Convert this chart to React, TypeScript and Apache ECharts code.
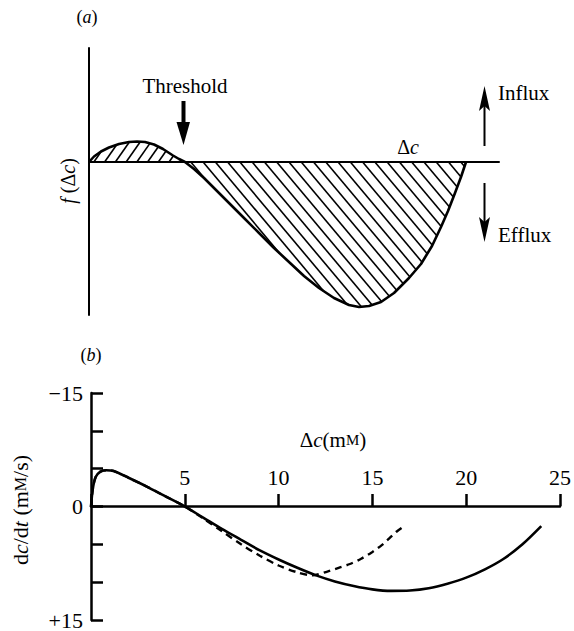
import React, { useEffect, useRef } from "react";
import * as echarts from "echarts";

// ---------- Panel (a): schematic flux function f(Δc), arbitrary units ----------
const fluxX = [0, 0.5, 1.2, 2, 3, 4, 4.8, 5.6, 6.5, 7.4, 8.4, 9.0, 9.6, 10.5, 11.5, 12.5, 14, 15.5, 17, 18.5, 20, 21.5, 23, 24.5, 26, 27, 28, 29.2, 30.5, 32, 33.2, 34.3, 35.2, 35.9, 36.6, 37.2, 37.7];
const fluxY = [0, 5.5, 10.5, 14.5, 18, 20, 20.5, 20, 17.5, 13, 6.5, 3, 0, -7, -16, -26, -41, -56, -71, -86, -100, -114, -126, -136, -143, -145, -144, -140, -131, -116, -102, -84, -65, -49, -31, -15, 0];
const thresholdX = 9.6;

// ---------- Panel (b): dc/dt vs Δc (mM, mM/s); y axis inverted ----------
const deltaC = [0, 0.1, 0.25, 0.5, 0.8, 1.2, 2, 3, 4, 5, 6, 7, 8, 9, 10, 11, 12, 13, 14, 15, 16, 17, 18, 19, 20, 21, 22, 23, 24];
const rateSolid = [0, -2.4, -3.9, -4.6, -4.8, -4.7, -3.8, -2.6, -1.3, 0, 1.5, 3.0, 4.4, 5.8, 7.0, 8.1, 9.1, 9.9, 10.5, 10.95, 11.15, 11.1, 10.8, 10.2, 9.4, 8.3, 6.9, 5.0, 2.6];
const deltaCDashed = [0, 0.1, 0.25, 0.5, 0.8, 1.2, 2, 3, 4, 5, 6, 7, 8, 9, 10, 11, 11.8, 12.6, 13.2, 13.8, 14.4, 15, 15.5, 15.9, 16.3, 16.7];
const rateDashed = [0, -2.4, -3.9, -4.6, -4.8, -4.7, -3.8, -2.6, -1.3, 0, 1.6, 3.3, 5.0, 6.5, 7.8, 8.7, 9.1, 8.6, 8.1, 7.6, 6.9, 6.0, 5.1, 4.2, 3.3, 2.6];
const xTickValues = [0, 5, 10, 15, 20, 25];
const yTickLabels: Record<string, string> = { "-15": "\u221215", "0": "0", "15": "+15" };

const SERIF = "'Liberation Serif', 'DejaVu Serif', serif";

function hatch(poly: number[][], angleDeg: number, spacing: number, forward: boolean, phase: number) {
  const t = (angleDeg * Math.PI) / 180;
  const d = forward ? [Math.cos(t), -Math.sin(t)] : [Math.cos(t), Math.sin(t)];
  const n = [-d[1], d[0]];
  const proj = poly.map((p) => p[0] * n[0] + p[1] * n[1]);
  const cmin = Math.min(...proj);
  const cmax = Math.max(...proj);
  const out: any[] = [];
  for (let c = cmin + phase; c < cmax; c += spacing) {
    const hits: number[][] = [];
    for (let i = 0; i < poly.length; i++) {
      const j = (i + 1) % poly.length;
      const a = poly[i];
      const b = poly[j];
      const ta = proj[i] - c;
      const tb = proj[j] - c;
      if (ta < 0 !== tb < 0) {
        const s = ta / (ta - tb);
        const x = a[0] + (b[0] - a[0]) * s;
        const y = a[1] + (b[1] - a[1]) * s;
        hits.push([x, y, x * d[0] + y * d[1]]);
      }
    }
    hits.sort((p, q) => p[2] - q[2]);
    for (let k = 0; k + 1 < hits.length; k += 2) {
      out.push({
        type: "line",
        shape: { x1: hits[k][0], y1: hits[k][1], x2: hits[k + 1][0], y2: hits[k + 1][1] },
        style: { stroke: "#000", lineWidth: 1.6 },
      });
    }
  }
  return out;
}

export default function App() {
  const ref = useRef<HTMLDivElement>(null);
  useEffect(() => {
    if (!ref.current) return;
    const chart = echarts.init(ref.current, null, { renderer: "svg" });
    const italic = { fontStyle: "italic", fontFamily: SERIF, fill: "#000" };
    const option: any = {
      animation: false,
      backgroundColor: "#fff",
      grid: [
        { left: 89, top: 48, width: 410, height: 267 },
        { left: 91, top: 393, width: 472, height: 228 },
      ],
      xAxis: [
        {
          gridIndex: 0, type: "value", min: 0, max: 41,
          axisLine: { show: true, onZero: true, lineStyle: { color: "#000", width: 2 } },
          axisTick: { show: false }, axisLabel: { show: false }, splitLine: { show: false },
        },
        {
          gridIndex: 1, type: "value", min: 0, max: 25, interval: 5,
          position: "bottom", offset: -114,
          axisLine: { show: true, onZero: false, lineStyle: { color: "#000", width: 2.5 } },
          axisTick: { show: true, inside: true, length: 12, lineStyle: { color: "#000", width: 2.5 } },
          axisLabel: {
            show: true, inside: true, margin: 18, color: "#000", fontSize: 22, fontFamily: SERIF,
            formatter: (v: number) => (v === 0 || xTickValues.indexOf(v) < 0 ? "" : String(v)),
          },
          splitLine: { show: false },
        },
      ],
      yAxis: [
        {
          gridIndex: 0, type: "value", min: -153, max: 114,
          axisLine: { show: true, onZero: false, lineStyle: { color: "#000", width: 2 } },
          axisTick: { show: false }, axisLabel: { show: false }, splitLine: { show: false },
        },
        {
          gridIndex: 1, type: "value", min: -15, max: 15, interval: 5, inverse: true,
          axisLine: { show: true, onZero: false, lineStyle: { color: "#000", width: 2.5 } },
          axisTick: { show: true, inside: true, length: 12, lineStyle: { color: "#000", width: 2.5 } },
          axisLabel: {
            show: true, margin: 8, color: "#000", fontSize: 22, fontFamily: SERIF,
            formatter: (v: number) => yTickLabels[String(v)] ?? "",
          },
          splitLine: { show: false },
        },
      ],
      series: [
        {
          type: "custom",
          xAxisIndex: 0,
          yAxisIndex: 0,
          coordinateSystem: "cartesian2d",
          clip: false,
          data: [[0, 0]],
          renderItem: (_p: any, api: any) => {
            const pts = fluxX.map((x, i) => api.coord([x, fluxY[i]]));
            const idx = fluxX.indexOf(thresholdX);
            const hump = pts.slice(0, idx + 1);
            const trough = pts.slice(idx);
            const children: any[] = [
              ...hatch(hump, 55, 8.8, true, 4),
              ...hatch(trough, 50, 9.4, false, 4),
            ];
            children.push({
              type: "polyline",
              shape: { points: pts },
              style: { stroke: "#000", lineWidth: 2.6, fill: null, lineJoin: "round" },
            });
            return { type: "group", children };
          },
        },
        {
          type: "line", xAxisIndex: 1, yAxisIndex: 1,
          data: deltaCDashed.map((x, i) => [x, rateDashed[i]]),
          smooth: 0.3, showSymbol: false, symbol: "none",
          lineStyle: { color: "#000", width: 2.4, type: [7, 5] },
        },
        {
          type: "line", xAxisIndex: 1, yAxisIndex: 1,
          data: deltaC.map((x, i) => [x, rateSolid[i]]),
          smooth: 0.3, showSymbol: false, symbol: "none",
          lineStyle: { color: "#000", width: 2.6 },
        },
      ],
      graphic: [
        { type: "text", x: 87, y: 17, style: { text: "({i|a})", fontSize: 18, fontFamily: SERIF, fill: "#000", align: "center", verticalAlign: "middle", rich: { i: { ...italic, fontSize: 18 } } } },
        { type: "text", x: 91, y: 355, style: { text: "({i|b})", fontSize: 18, fontFamily: SERIF, fill: "#000", align: "center", verticalAlign: "middle", rich: { i: { ...italic, fontSize: 18 } } } },
        { type: "text", x: 185, y: 86, style: { text: "Threshold", fontSize: 21, fontFamily: SERIF, fill: "#000", align: "center", verticalAlign: "middle" } },
        { type: "rect", shape: { x: 181.5, y: 101, width: 4, height: 23 }, style: { fill: "#000" } },
        { type: "polygon", shape: { points: [[176.5, 122], [190, 122], [183.5, 145]] }, style: { fill: "#000" } },
        { type: "text", x: 408, y: 147, style: { text: "\u0394{i|c}", fontSize: 20, fontFamily: SERIF, fill: "#000", align: "center", verticalAlign: "middle", rich: { i: { ...italic, fontSize: 20 } } } },
        { type: "text", x: 68, y: 181, rotation: Math.PI / 2, style: { text: "{i|f} (\u0394{i|c})", fontSize: 20, fontFamily: SERIF, fill: "#000", align: "center", verticalAlign: "middle", rich: { i: { ...italic, fontSize: 20 } } } },
        { type: "line", shape: { x1: 484.5, y1: 146, x2: 484.5, y2: 104 }, style: { stroke: "#000", lineWidth: 2 } },
        { type: "polygon", shape: { points: [[479, 111], [484.5, 86], [490, 111], [484.5, 106]] }, style: { fill: "#000" } },
        { type: "line", shape: { x1: 484.5, y1: 183, x2: 484.5, y2: 224 }, style: { stroke: "#000", lineWidth: 2 } },
        { type: "polygon", shape: { points: [[479, 217], [484.5, 242], [490, 217], [484.5, 222]] }, style: { fill: "#000" } },
        { type: "text", x: 498, y: 93, style: { text: "Influx", fontSize: 21, fontFamily: SERIF, fill: "#000", align: "left", verticalAlign: "middle" } },
        { type: "text", x: 498, y: 235, style: { text: "Efflux", fontSize: 21, fontFamily: SERIF, fill: "#000", align: "left", verticalAlign: "middle" } },
        { type: "text", x: 333, y: 440, style: { text: "\u0394{i|c}(m{s|M})", fontSize: 21, fontFamily: SERIF, fill: "#000", align: "center", verticalAlign: "middle", rich: { i: { ...italic, fontSize: 21 }, s: { fontFamily: SERIF, fill: "#000", fontSize: 15 } } } },
        { type: "text", x: 20, y: 510, rotation: Math.PI / 2, style: { text: "d{i|c}/d{i|t} (m{s|M}/s)", fontSize: 22, fontFamily: SERIF, fill: "#000", align: "center", verticalAlign: "middle", rich: { i: { ...italic, fontSize: 22 }, s: { fontFamily: SERIF, fill: "#000", fontSize: 16 } } } },
      ],
    };
    chart.setOption(option);
    return () => chart.dispose();
  }, []);
  return <div ref={ref} style={{ position: "absolute", left: 0, top: 0, width: 574, height: 631, background: "#fff" }} />;
}
